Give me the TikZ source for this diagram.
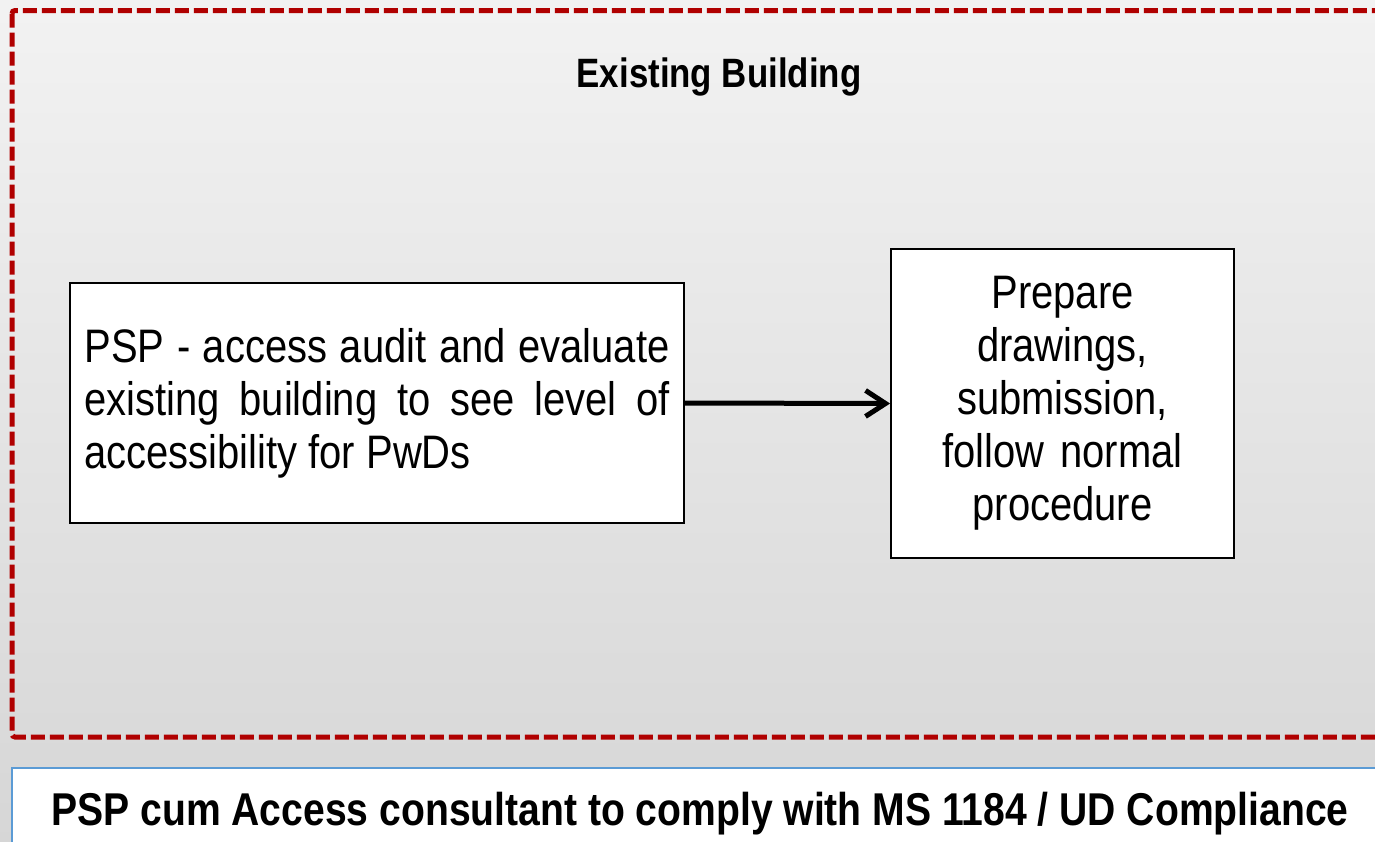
\documentclass[tikz,border=0pt]{standalone}
\usepackage{fontspec}
\setmainfont{Liberation Sans}[FakeStretch=0.85]
\usetikzlibrary{arrows.meta}
\definecolor{frame red}{HTML}{B00000}
\definecolor{note blue}{HTML}{5B9BD5}
\newcommand\nohyphens{\hyphenpenalty=10000 \exhyphenpenalty=10000\relax}
\tikzset{
  stepbox/.style={draw=black, line width=1.8pt, fill=white, inner xsep=0pt},
  bodytext/.style={font=\fontsize{47}{53}\selectfont\nohyphens},
  flow/.style={line width=5pt, -{Straight Barb[length=20pt, width=26pt, line width=5pt]}},
}
\begin{document}
\begin{tikzpicture}[x=1pt, y=-1pt]
  \useasboundingbox (0,0) rectangle (1375,841);
  % page background
  \shade[top color=black!5, bottom color=black!16] (0,0) rectangle (1375,841);

  % dashed frame around the existing-building workflow
  \draw[frame red, line width=5pt, dash pattern=on 14pt off 5pt, rounded corners=3pt]
    (12,10.5) rectangle (1420,737);

  \node[anchor=base, font=\bfseries\fontsize{41}{48}\selectfont] (title) at (719,87) {Existing Building};

  \node[stepbox, bodytext, text width=585pt, minimum width=614pt, minimum height=240pt,
        align=justify] (audit) at (377,403)
    {PSP - access audit and evaluate existing building to see level of accessibility for PwDs\par};

  \node[stepbox, bodytext, text width=330pt, minimum width=343pt, minimum height=309pt,
        align=center] (prepare) at (1062.5,403.5)
    {Prepare\\drawings,\\submission,\\follow normal\\procedure};

  \draw[flow] (audit.east) -- (prepare.west);

  % footer note
  \fill[white, draw=note blue, line width=2.5pt] (12,768) rectangle (1420,900);
  \node[anchor=base, font=\bfseries\fontsize{46}{54}\selectfont] (footer) at (700,825)
    {PSP cum Access consultant to comply with MS 1184 / UD Compliance};
\end{tikzpicture}
\end{document}
